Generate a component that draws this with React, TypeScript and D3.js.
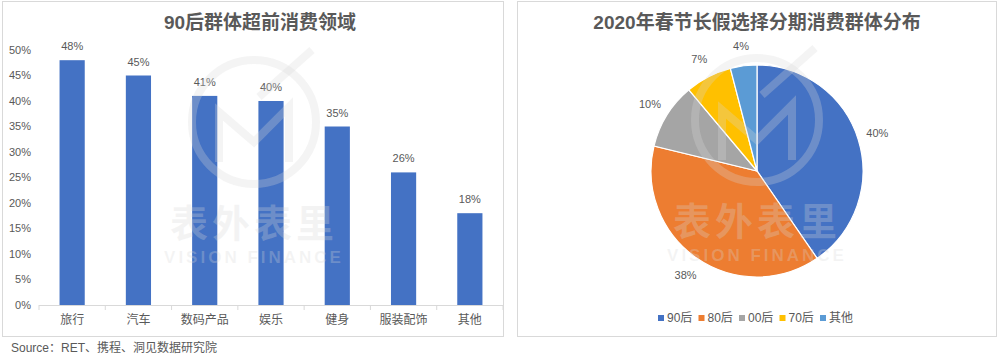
import React from 'react';
import * as d3 from 'd3';

// left chart: 90后群体超前消费领域
const categories = ['旅行', '汽车', '数码产品', '娱乐', '健身', '服装配饰', '其他'];
const shares = [48, 45, 41, 40, 35, 26, 18];
const yTicks = [0, 5, 10, 15, 20, 25, 30, 35, 40, 45, 50];

// right chart: 分期消费群体分布
const groups = ['90后', '80后', '00后', '70后', '其他'];
const groupShares = [40, 38, 10, 7, 4];
const groupColors = ['#4472C4', '#ED7D31', '#A5A5A5', '#FFC000', '#5B9BD5'];

const W = 1000;
const H = 357;
const font = '"Liberation Sans", "Noto Sans CJK SC", sans-serif';
const textColor = '#595959';

const x = d3.scaleBand<string>()
  .domain(categories)
  .range([39, 503])
  .paddingInner(0.62)
  .paddingOuter(0.31);

const y = d3.scaleLinear()
  .domain([0, 50])
  .range([305, 50]);

const pieCx = 757;
const pieCy = 171;
const radius = 106;

const pie = d3.pie<number>().sort(null).startAngle(0).endAngle(2 * Math.PI);
const arcs = pie(groupShares);
const arc = d3.arc<d3.PieArcDatum<number>>().innerRadius(0).outerRadius(radius);
const labelArc = d3.arc<d3.PieArcDatum<number>>().innerRadius(126).outerRadius(126);

const legendX = d3.scalePoint<string>().domain(groups).range([661, 823]);

function Watermark({ cx, cy }: { cx: number; cy: number }) {
  const fill = 'rgba(215,215,215,0.28)';
  return (
    <g pointerEvents="none">
      <circle cx={cx} cy={cy - 100} r={62} fill="none" stroke={fill} strokeWidth={8} />
      <path
        d={`M${cx - 35},${cy - 60} L${cx - 35},${cy - 110} L${cx},${cy - 80} L${cx + 35},${cy - 115} L${cx + 35},${cy - 60}`}
        fill="none" stroke={fill} strokeWidth={8} />
      <path d={`M${cx + 5},${cy - 125} L${cx + 58},${cy - 172}`} stroke={fill} strokeWidth={8} />
      <text x={cx} y={cy + 15} textAnchor="middle" fontSize={38} fontWeight={700}
        fontFamily={font} fill={fill} letterSpacing={4}>表外表里</text>
      <text x={cx} y={cy + 41} textAnchor="middle" fontSize={17} fontWeight={700}
        fontFamily={font} fill={fill} letterSpacing={3}>VISION FINANCE</text>
    </g>
  );
}

export default function App() {
  const step = x.step();
  const bounds = categories.map(c => (x(c) as number) - step * 0.31);
  bounds.push(503);

  return (
    <svg width={W} height={H} style={{ position: 'absolute', left: 0, top: 0, background: '#fff' }}
      fontFamily={font}>
      <rect x={0} y={0} width={W} height={H} fill="#fff" />

      {/* panels */}
      <rect x={2.5} y={1.5} width={501} height={335} fill="none" stroke="#d9d9d9" />
      <rect x={517.5} y={1.5} width={479} height={335} fill="none" stroke="#d9d9d9" />

      {/* left chart */}
      <text x={260} y={29} textAnchor="middle" fontSize={19} fontWeight={600} fill={textColor}>
        90后群体超前消费领域
      </text>
      {yTicks.map(t => (
        <text key={t} x={31} y={y(t)} dy="0.35em" textAnchor="end" fontSize={11} fill={textColor}>
          {t}%
        </text>
      ))}
      {categories.map((c, i) => (
        <g key={c}>
          <rect x={x(c)} y={y(shares[i])} width={x.bandwidth()} height={y(0) - y(shares[i])} fill="#4472C4" />
          <text x={(x(c) as number) + x.bandwidth() / 2} y={y(shares[i]) - 10} textAnchor="middle"
            fontSize={11} fill={textColor}>{shares[i]}%</text>
          <text x={(x(c) as number) + x.bandwidth() / 2} y={320} dy="0.35em" textAnchor="middle"
            fontSize={12} fill={textColor}>{c}</text>
        </g>
      ))}
      <line x1={39} x2={503} y1={y(0) + 0.5} y2={y(0) + 0.5} stroke="#d9d9d9" />
      {bounds.map((b, i) => (
        <line key={i} x1={b} x2={b} y1={y(0)} y2={y(0) + 5} stroke="#d9d9d9" />
      ))}
      <Watermark cx={254} cy={222} />

      {/* right chart */}
      <text x={757} y={29} textAnchor="middle" fontSize={19} fontWeight={600} fill={textColor}>
        2020年春节长假选择分期消费群体分布
      </text>
      <g transform={`translate(${pieCx},${pieCy})`}>
        {arcs.map((a, i) => (
          <path key={groups[i]} d={arc(a) as string} fill={groupColors[i]} stroke="#fff" strokeWidth={1.2} />
        ))}
        {arcs.map((a, i) => {
          const [lx, ly] = labelArc.centroid(a);
          return (
            <text key={groups[i]} x={lx} y={ly} dy="0.35em" textAnchor="middle" fontSize={11} fill={textColor}>
              {groupShares[i]}%
            </text>
          );
        })}
      </g>
      <Watermark cx={757} cy={220} />
      {groups.map((g, i) => (
        <g key={g} transform={`translate(${legendX(g)},318)`}>
          <rect x={-3} y={-3} width={6} height={6} fill={groupColors[i]} />
          <text x={6} y={0} dy="0.35em" fontSize={12} fill={textColor}>{g}</text>
        </g>
      ))}

      {/* source */}
      <text x={11} y={348} dy="0.35em" fontSize={12} fill={textColor}>
        Source：RET、携程、洞见数据研究院
      </text>
    </svg>
  );
}
